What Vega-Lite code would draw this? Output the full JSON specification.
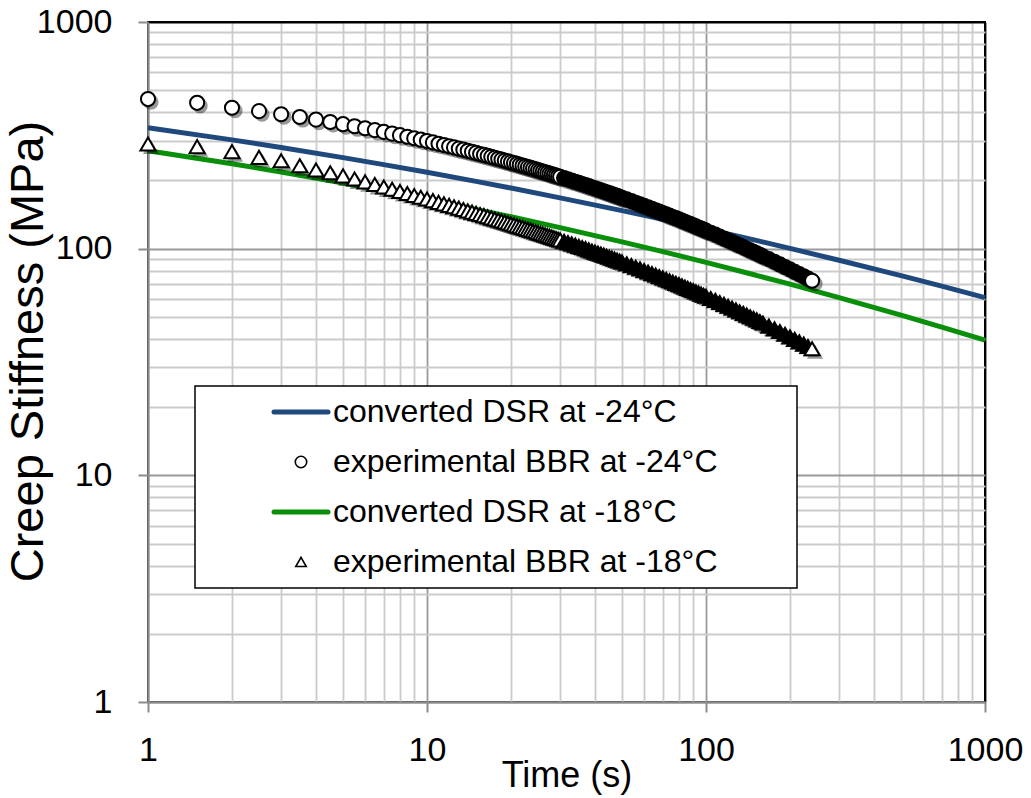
{
  "$schema": "https://vega.github.io/schema/vega-lite/v6.json",
  "width": 837,
  "height": 680,
  "autosize": {"type": "none"},
  "padding": {"left": 148, "top": 22, "right": 46, "bottom": 96},
  "background": "white",
  "config": {
    "font": "Liberation Sans",
    "view": {"stroke": "black", "strokeWidth": 2}
  },
  "datasets": {
    "dsr": [
      {"t": 1, "dsr24": 341.8, "dsr18": 270.6},
      {"t": 2, "dsr24": 302.0, "dsr18": 236.8},
      {"t": 3, "dsr24": 279.5, "dsr18": 217.8},
      {"t": 5, "dsr24": 252.2, "dsr18": 194.6},
      {"t": 7, "dsr24": 234.9, "dsr18": 180.0},
      {"t": 10, "dsr24": 217.3, "dsr18": 165.2},
      {"t": 15, "dsr24": 198.1, "dsr18": 149.1},
      {"t": 20, "dsr24": 185.1, "dsr18": 138.3},
      {"t": 30, "dsr24": 167.6, "dsr18": 123.9},
      {"t": 50, "dsr24": 147.2, "dsr18": 107.2},
      {"t": 70, "dsr24": 134.7, "dsr18": 97.0},
      {"t": 100, "dsr24": 122.2, "dsr18": 87.0},
      {"t": 150, "dsr24": 109.0, "dsr18": 76.5},
      {"t": 200, "dsr24": 100.3, "dsr18": 69.7},
      {"t": 300, "dsr24": 88.9, "dsr18": 60.8},
      {"t": 500, "dsr24": 76.0, "dsr18": 50.9},
      {"t": 700, "dsr24": 68.3, "dsr18": 45.1},
      {"t": 1000, "dsr24": 60.8, "dsr18": 39.5}
    ],
    "bbr": [
      {"t": 1, "bbr24": 457.1, "bbr18": 289.6},
      {"t": 1.5, "bbr24": 440.0, "bbr18": 281.8},
      {"t": 2, "bbr24": 418.7, "bbr18": 267.9},
      {"t": 2.5, "bbr24": 404.3, "bbr18": 252.9},
      {"t": 3, "bbr24": 391.8, "bbr18": 244.3},
      {"t": 3.5, "bbr24": 380.9, "bbr18": 232.3},
      {"t": 4, "bbr24": 371.1, "bbr18": 222.3},
      {"t": 4.5, "bbr24": 362.2, "bbr18": 216.3},
      {"t": 5, "bbr24": 354.1, "bbr18": 209.4},
      {"t": 5.5, "bbr24": 346.7, "bbr18": 202.9},
      {"t": 6, "bbr24": 339.9, "bbr18": 197.1},
      {"t": 6.5, "bbr24": 333.5, "bbr18": 191.9},
      {"t": 7, "bbr24": 327.5, "bbr18": 187.1},
      {"t": 7.5, "bbr24": 321.9, "bbr18": 182.8},
      {"t": 8, "bbr24": 316.7, "bbr18": 178.8},
      {"t": 8.5, "bbr24": 311.7, "bbr18": 175.2},
      {"t": 9, "bbr24": 307.0, "bbr18": 171.7},
      {"t": 9.5, "bbr24": 302.6, "bbr18": 168.6},
      {"t": 10, "bbr24": 298.3, "bbr18": 165.6},
      {"t": 10.5, "bbr24": 294.3, "bbr18": 162.8},
      {"t": 11, "bbr24": 290.4, "bbr18": 160.1},
      {"t": 11.5, "bbr24": 286.7, "bbr18": 157.6},
      {"t": 12, "bbr24": 283.1, "bbr18": 155.3},
      {"t": 12.5, "bbr24": 279.7, "bbr18": 153.0},
      {"t": 13, "bbr24": 276.4, "bbr18": 150.9},
      {"t": 13.5, "bbr24": 273.3, "bbr18": 148.8},
      {"t": 14, "bbr24": 270.2, "bbr18": 146.9},
      {"t": 14.5, "bbr24": 267.3, "bbr18": 145.0},
      {"t": 15, "bbr24": 264.5, "bbr18": 143.2},
      {"t": 15.5, "bbr24": 261.7, "bbr18": 141.5},
      {"t": 16, "bbr24": 259.1, "bbr18": 139.8},
      {"t": 16.5, "bbr24": 256.5, "bbr18": 138.3},
      {"t": 17, "bbr24": 254.0, "bbr18": 136.7},
      {"t": 17.5, "bbr24": 251.6, "bbr18": 135.2},
      {"t": 18, "bbr24": 249.3, "bbr18": 133.8},
      {"t": 18.5, "bbr24": 247.0, "bbr18": 132.4},
      {"t": 19, "bbr24": 244.8, "bbr18": 131.1},
      {"t": 19.5, "bbr24": 242.6, "bbr18": 129.8},
      {"t": 20, "bbr24": 240.5, "bbr18": 128.5},
      {"t": 20.5, "bbr24": 238.5, "bbr18": 127.3},
      {"t": 21, "bbr24": 236.5, "bbr18": 126.1},
      {"t": 21.5, "bbr24": 234.5, "bbr18": 125.0},
      {"t": 22, "bbr24": 232.6, "bbr18": 123.9},
      {"t": 22.5, "bbr24": 230.8, "bbr18": 122.8},
      {"t": 23, "bbr24": 229.0, "bbr18": 121.7},
      {"t": 23.5, "bbr24": 227.2, "bbr18": 120.7},
      {"t": 24, "bbr24": 225.5, "bbr18": 119.7},
      {"t": 24.5, "bbr24": 223.8, "bbr18": 118.7},
      {"t": 25, "bbr24": 222.1, "bbr18": 117.7},
      {"t": 25.5, "bbr24": 220.5, "bbr18": 116.8},
      {"t": 26, "bbr24": 219.0, "bbr18": 115.9},
      {"t": 26.5, "bbr24": 217.4, "bbr18": 115.0},
      {"t": 27, "bbr24": 215.9, "bbr18": 114.2},
      {"t": 27.5, "bbr24": 214.4, "bbr18": 113.3},
      {"t": 28, "bbr24": 212.9, "bbr18": 112.5},
      {"t": 28.5, "bbr24": 211.5, "bbr18": 111.6},
      {"t": 29, "bbr24": 210.1, "bbr18": 110.9},
      {"t": 29.5, "bbr24": 208.7, "bbr18": 110.1},
      {"t": 30, "bbr24": 207.4, "bbr18": 109.3},
      {"t": 31, "bbr24": 204.8, "bbr18": 107.8},
      {"t": 32, "bbr24": 202.2, "bbr18": 106.4},
      {"t": 33, "bbr24": 199.8, "bbr18": 105.0},
      {"t": 34, "bbr24": 197.4, "bbr18": 103.7},
      {"t": 35, "bbr24": 195.1, "bbr18": 102.4},
      {"t": 36, "bbr24": 192.9, "bbr18": 101.2},
      {"t": 37, "bbr24": 190.8, "bbr18": 100.0},
      {"t": 38, "bbr24": 188.7, "bbr18": 98.8},
      {"t": 39, "bbr24": 186.7, "bbr18": 97.7},
      {"t": 40, "bbr24": 184.7, "bbr18": 96.6},
      {"t": 41, "bbr24": 182.8, "bbr18": 95.6},
      {"t": 42, "bbr24": 181.0, "bbr18": 94.6},
      {"t": 43, "bbr24": 179.2, "bbr18": 93.6},
      {"t": 44, "bbr24": 177.4, "bbr18": 92.6},
      {"t": 45, "bbr24": 175.7, "bbr18": 91.7},
      {"t": 46, "bbr24": 174.1, "bbr18": 90.8},
      {"t": 47, "bbr24": 172.5, "bbr18": 89.9},
      {"t": 48, "bbr24": 170.9, "bbr18": 89.0},
      {"t": 49, "bbr24": 169.3, "bbr18": 88.2},
      {"t": 50, "bbr24": 167.8, "bbr18": 87.4},
      {"t": 52, "bbr24": 164.9, "bbr18": 85.8},
      {"t": 54, "bbr24": 162.2, "bbr18": 84.3},
      {"t": 56, "bbr24": 159.5, "bbr18": 82.8},
      {"t": 58, "bbr24": 157.0, "bbr18": 81.5},
      {"t": 60, "bbr24": 154.5, "bbr18": 80.1},
      {"t": 62, "bbr24": 152.2, "bbr18": 78.9},
      {"t": 64, "bbr24": 149.9, "bbr18": 77.7},
      {"t": 66, "bbr24": 147.8, "bbr18": 76.5},
      {"t": 68, "bbr24": 145.7, "bbr18": 75.4},
      {"t": 70, "bbr24": 143.7, "bbr18": 74.3},
      {"t": 72, "bbr24": 141.7, "bbr18": 73.3},
      {"t": 74, "bbr24": 139.8, "bbr18": 72.2},
      {"t": 76, "bbr24": 138.0, "bbr18": 71.3},
      {"t": 78, "bbr24": 136.3, "bbr18": 70.3},
      {"t": 80, "bbr24": 134.6, "bbr18": 69.4},
      {"t": 82, "bbr24": 132.9, "bbr18": 68.5},
      {"t": 84, "bbr24": 131.3, "bbr18": 67.7},
      {"t": 86, "bbr24": 129.8, "bbr18": 66.8},
      {"t": 88, "bbr24": 128.3, "bbr18": 66.0},
      {"t": 90, "bbr24": 126.8, "bbr18": 65.3},
      {"t": 92, "bbr24": 125.4, "bbr18": 64.5},
      {"t": 94, "bbr24": 124.0, "bbr18": 63.8},
      {"t": 96, "bbr24": 122.7, "bbr18": 63.0},
      {"t": 98, "bbr24": 121.3, "bbr18": 62.3},
      {"t": 100, "bbr24": 120.1, "bbr18": 61.7},
      {"t": 104, "bbr24": 117.6, "bbr18": 60.3},
      {"t": 108, "bbr24": 115.3, "bbr18": 59.1},
      {"t": 112, "bbr24": 113.0, "bbr18": 57.9},
      {"t": 116, "bbr24": 110.9, "bbr18": 56.8},
      {"t": 120, "bbr24": 108.9, "bbr18": 55.7},
      {"t": 124, "bbr24": 106.9, "bbr18": 54.7},
      {"t": 128, "bbr24": 105.1, "bbr18": 53.7},
      {"t": 132, "bbr24": 103.3, "bbr18": 52.7},
      {"t": 136, "bbr24": 101.6, "bbr18": 51.8},
      {"t": 140, "bbr24": 99.9, "bbr18": 50.9},
      {"t": 144, "bbr24": 98.3, "bbr18": 50.1},
      {"t": 148, "bbr24": 96.8, "bbr18": 49.3},
      {"t": 152, "bbr24": 95.3, "bbr18": 48.5},
      {"t": 156, "bbr24": 93.9, "bbr18": 47.7},
      {"t": 160, "bbr24": 92.5, "bbr18": 47.0},
      {"t": 168, "bbr24": 89.9, "bbr18": 45.5},
      {"t": 176, "bbr24": 87.5, "bbr18": 44.3},
      {"t": 184, "bbr24": 85.2, "bbr18": 43.1},
      {"t": 192, "bbr24": 83.0, "bbr18": 41.9},
      {"t": 200, "bbr24": 81.0, "bbr18": 40.8},
      {"t": 208, "bbr24": 79.0, "bbr18": 39.8},
      {"t": 216, "bbr24": 77.2, "bbr18": 38.8},
      {"t": 224, "bbr24": 75.5, "bbr18": 37.9},
      {"t": 232, "bbr24": 73.8, "bbr18": 37.0},
      {"t": 240, "bbr24": 72.2, "bbr18": 36.2}
    ]
  },
  "layer": [
    {
      "data": {"name": "dsr"},
      "transform": [{"fold": ["dsr24", "dsr18"], "as": ["series", "S"]}],
      "mark": {"type": "line", "strokeWidth": 5, "interpolate": "monotone"},
      "encoding": {
        "x": {
          "field": "t", "type": "quantitative",
          "scale": {"type": "log", "domain": [1, 1000], "nice": false},
          "axis": {
            "values": [1,2,3,4,5,6,7,8,9,10,20,30,40,50,60,70,80,90,100,200,300,400,500,600,700,800,900,1000],
            "labelExpr": "indexof([1,10,100,1000], datum.value) >= 0 ? '' + datum.value : ''",
            "labelFontSize": 34, "labelColor": "black", "labelPadding": 21,
            "labelOverlap": false, "labelFlush": false, "labelBound": false,
            "tickSize": 10, "tickWidth": 2,
            "tickColor": {"condition": {"test": "indexof([1,10,100,1000], datum.value) >= 0", "value": "#8c8c8c"}, "value": "transparent"},
            "grid": true, "gridWidth": 1.8,
            "gridColor": {"condition": [{"test": "datum.value == 1000", "value": "black"}, {"test": "indexof([1,10,100], datum.value) >= 0", "value": "#9a9a9a"}], "value": "#cbcbcb"},
            "domainColor": "#8c8c8c", "domainWidth": 2,
            "title": "Time (s)", "titleFontSize": 36, "titleFontWeight": "normal", "titleColor": "black",
            "titleBaseline": "middle", "titleY": 73
          }
        },
        "y": {
          "field": "S", "type": "quantitative",
          "scale": {"type": "log", "domain": [1, 1000], "nice": false},
          "axis": {
            "values": [1,2,3,4,5,6,7,8,9,10,20,30,40,50,60,70,80,90,100,200,300,400,500,600,700,800,900,1000],
            "labelExpr": "indexof([1,10,100,1000], datum.value) >= 0 ? '' + datum.value : ''",
            "labelFontSize": 34, "labelColor": "black", "labelPadding": 26,
            "labelOverlap": false, "labelFlush": false, "labelBound": false,
            "tickSize": 10, "tickWidth": 2,
            "tickColor": {"condition": {"test": "indexof([1,10,100,1000], datum.value) >= 0", "value": "#8c8c8c"}, "value": "transparent"},
            "grid": true, "gridWidth": 1.8,
            "gridColor": {"condition": [{"test": "datum.value == 1000", "value": "black"}, {"test": "indexof([1,10,100], datum.value) >= 0", "value": "#9a9a9a"}], "value": "#cbcbcb"},
            "domainColor": "#8c8c8c", "domainWidth": 2,
            "title": "Creep Stiffness (MPa)", "titleFontSize": 47, "titleFontWeight": "normal", "titleColor": "black",
            "titleBaseline": "middle", "titleX": -120, "titleY": 329
          }
        },
        "color": {
          "field": "series", "type": "nominal",
          "scale": {"domain": ["dsr24", "bbr24", "dsr18", "bbr18"], "range": ["#1F497D", "#000000", "#0A8F0A", "#000000"]},
          "legend": {
            "orient": "none", "legendX": 47, "legendY": 364,
            "title": null, "padding": 10,
            "fillColor": "white", "strokeColor": "black",
            "labelFontSize": 32, "labelColor": "black", "labelLimit": 1000,
            "labelOffset": 16, "symbolOffset": 80,
            "symbolSize": 2916, "symbolStrokeWidth": 5, "symbolType": "stroke",
            "rowPadding": 18,
            "labelExpr": "(datum.value == 'dsr24' ? 'converted DSR at -24°C' : datum.value == 'bbr24' ? 'experimental BBR at -24°C' : datum.value == 'dsr18' ? 'converted DSR at -18°C' : 'experimental BBR at -18°C') + '\u2800\u2800\u2800'",
            "encode": {
              "legend": {"update": {"strokeWidth": {"value": 1.5}}},
              "symbols": {
                "update": {
                  "shape": {"signal": "datum.value == 'bbr24' ? 'circle' : datum.value == 'bbr18' ? 'triangle-up' : 'stroke'"},
                  "size": {"signal": "datum.value == 'bbr24' ? 130 : datum.value == 'bbr18' ? 110 : 2916"},
                  "strokeWidth": {"signal": "(datum.value == 'bbr24' || datum.value == 'bbr18') ? 1.6 : 5"},
                  "stroke": {"signal": "scale('color', datum.value)"},
                  "fill": {"value": "white"},
                  "strokeCap": {"value": "round"},
                  "opacity": {"value": 1}
                }
              }
            }
          }
        }
      }
    },
    {
      "data": {"name": "bbr"},
      "transform": [{"fold": ["bbr24", "bbr18"], "as": ["series", "S"]}],
      "mark": {"type": "point", "filled": true, "color": "#000000", "opacity": 0.4, "strokeWidth": 0, "xOffset": 3, "yOffset": 3},
      "encoding": {
        "x": {"field": "t", "type": "quantitative"},
        "y": {"field": "S", "type": "quantitative"},
        "shape": {"field": "series", "type": "nominal", "legend": null},
        "size": {"condition": {"test": "datum.series == 'bbr24'", "value": 230}, "value": 260}
      }
    },
    {
      "data": {"name": "bbr"},
      "transform": [{"fold": ["bbr24", "bbr18"], "as": ["series", "S"]}],
      "mark": {"type": "point", "stroke": "black", "strokeWidth": 2, "opacity": 1},
      "encoding": {
        "x": {"field": "t", "type": "quantitative"},
        "y": {"field": "S", "type": "quantitative"},
        "shape": {
          "field": "series", "type": "nominal",
          "scale": {"domain": ["bbr24", "bbr18"], "range": ["circle", "triangle-up"]},
          "legend": null
        },
        "size": {"condition": {"test": "datum.series == 'bbr24'", "value": 200}, "value": 230},
        "fill": {"condition": {"test": "datum.t >= 31 && datum.t < 240", "value": "black"}, "value": "white"}
      }
    }
  ]
}
